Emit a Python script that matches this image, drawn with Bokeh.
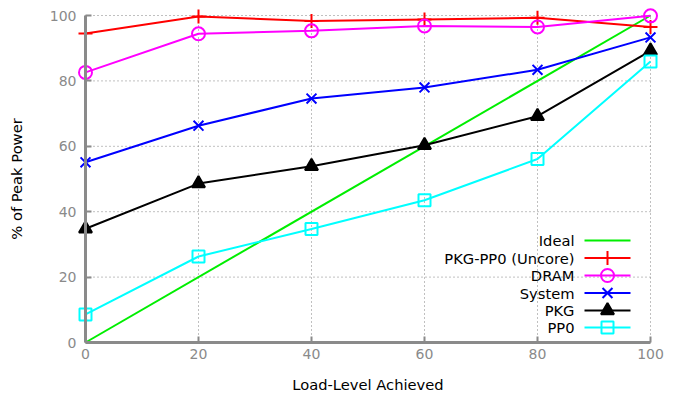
from bokeh.plotting import figure
from bokeh.models import Range1d, FixedTicker
from bokeh.embed import file_html
from bokeh.resources import INLINE
from bokeh.core.properties import value

# ---------------- data ----------------
load = [0, 20, 40, 60, 80, 100]
ideal_x = [0, 100]
ideal_y = [0, 100]
uncore = [94.5, 99.7, 98.3, 98.8, 99.3, 96.5]
dram = [82.6, 94.4, 95.3, 96.8, 96.5, 99.9]
system = [55.1, 66.3, 74.6, 78.0, 83.4, 93.3]
pkg = [34.8, 48.6, 53.9, 60.3, 69.2, 89.2]
pp0 = [8.6, 26.3, 34.7, 43.5, 56.1, 85.9]
x_ticks = [0, 20, 40, 60, 80, 100]
y_ticks = [0, 20, 40, 60, 80, 100]
names = ["Ideal", "PKG-PP0 (Uncore)", "DRAM", "System", "PKG", "PP0"]

# ---------------- layout ----------------
W, H = 674, 398
X0, X1 = 85, 650     # pixel of x=0, x=100
Y0, Y1 = 342, 15     # pixel of y=0, y=100
PX_X = (X1 - X0) / 100
PX_Y = (Y0 - Y1) / 100
FONT = "DejaVu Sans"
FS_TICK = "14px"
FS = "14.7px"
GRAY = "#8a8a8a"

x_start = -X0 / PX_X
x_end = 100 + (W - X1) / PX_X
y_start = -(H - Y0) / PX_Y
y_end = 100 + Y1 / PX_Y

p = figure(width=W, height=H, output_backend="svg", toolbar_location=None,
           x_range=Range1d(x_start, x_end), y_range=Range1d(y_start, y_end),
           min_border_left=0, min_border_right=0, min_border_top=0,
           min_border_bottom=0)
p.outline_line_color = None
p.background_fill_color = "white"
p.border_fill_color = "white"
p.xgrid.visible = False
p.ygrid.visible = False

for ax in (p.xaxis[0], p.yaxis[0]):
    ax.fixed_location = 0
    ax.bounds = (0, 100)
    ax.axis_line_color = GRAY
    ax.axis_line_width = 3
    ax.major_tick_line_color = GRAY
    ax.major_tick_line_width = 2
    ax.major_tick_in = 6
    ax.major_tick_out = 0
    ax.minor_tick_line_color = None
    ax.major_label_text_color = GRAY
    ax.major_label_text_font = FONT
    ax.major_label_text_font_size = FS_TICK
    ax.axis_label_text_font = FONT
    ax.axis_label_text_font_size = FS
    ax.axis_label_text_font_style = "normal"
    ax.axis_label_text_color = "black"

p.xaxis[0].ticker = FixedTicker(ticks=x_ticks)
p.yaxis[0].ticker = FixedTicker(ticks=y_ticks)
p.xaxis[0].axis_label = "Load-Level Achieved"
p.yaxis[0].axis_label = "% of Peak Power"
p.xaxis[0].major_label_standoff = 6
p.xaxis[0].axis_label_standoff = 14
p.yaxis[0].major_label_standoff = 9
p.yaxis[0].axis_label_standoff = 22

# dotted grid drawn from the tick lists
gx = x_ticks[1:]
p.segment(x0=gx, y0=[y_ticks[0]] * len(gx), x1=gx, y1=[y_ticks[-1]] * len(gx),
          line_color="#808080", line_width=1, line_dash="1 3")
gy = y_ticks[1:]
p.segment(x0=[x_ticks[0]] * len(gy), y0=gy, x1=[x_ticks[-1]] * len(gy), y1=gy,
          line_color="#808080", line_width=1, line_dash="1 3")

series = [
    (ideal_x, ideal_y, "#00ee00", None, {}),
    (load, uncore, "#ff0000", "cross", dict(size=14, fill_color=None)),
    (load, dram, "#ff00ff", "circle", dict(size=13, fill_color=None)),
    (load, system, "#0000ff", "x", dict(size=14, fill_color=None)),
    (load, pkg, "#000000", "triangle", dict(size=13, fill_color="#000000")),
    (load, pp0, "#00ffff", "square", dict(size=12, fill_color=None)),
]

# legend layout (page pixels -> data)
def px2x(px):
    return (px - X0) / PX_X

def px2y(py):
    return (Y0 - py) / PX_Y

LEG_TEXT_X = px2x(574)
LEG_L0 = px2x(584)
LEG_L1 = px2x(630)
LEG_M = px2x(607)
LEG_ROWS = [240, 257.5, 275, 292.5, 310, 327]

for (xs, ys, col, mk, kw), name, row in zip(series, names, LEG_ROWS):
    p.line(xs, ys, line_color=col, line_width=2)
    if mk:
        p.scatter(xs, ys, marker=mk, line_color=col, line_width=2, **kw)
    ly = px2y(row)
    p.line([LEG_L0, LEG_L1], [ly, ly], line_color=col, line_width=2)
    if mk:
        p.scatter([LEG_M], [ly], marker=mk, line_color=col, line_width=2, **kw)
    p.text(x=[LEG_TEXT_X], y=[ly], text=[name], text_align="right",
           text_baseline="middle", text_font=value(FONT),
           text_font_size=FS, text_color="black")

open("out.html", "w").write(file_html(p, INLINE))
